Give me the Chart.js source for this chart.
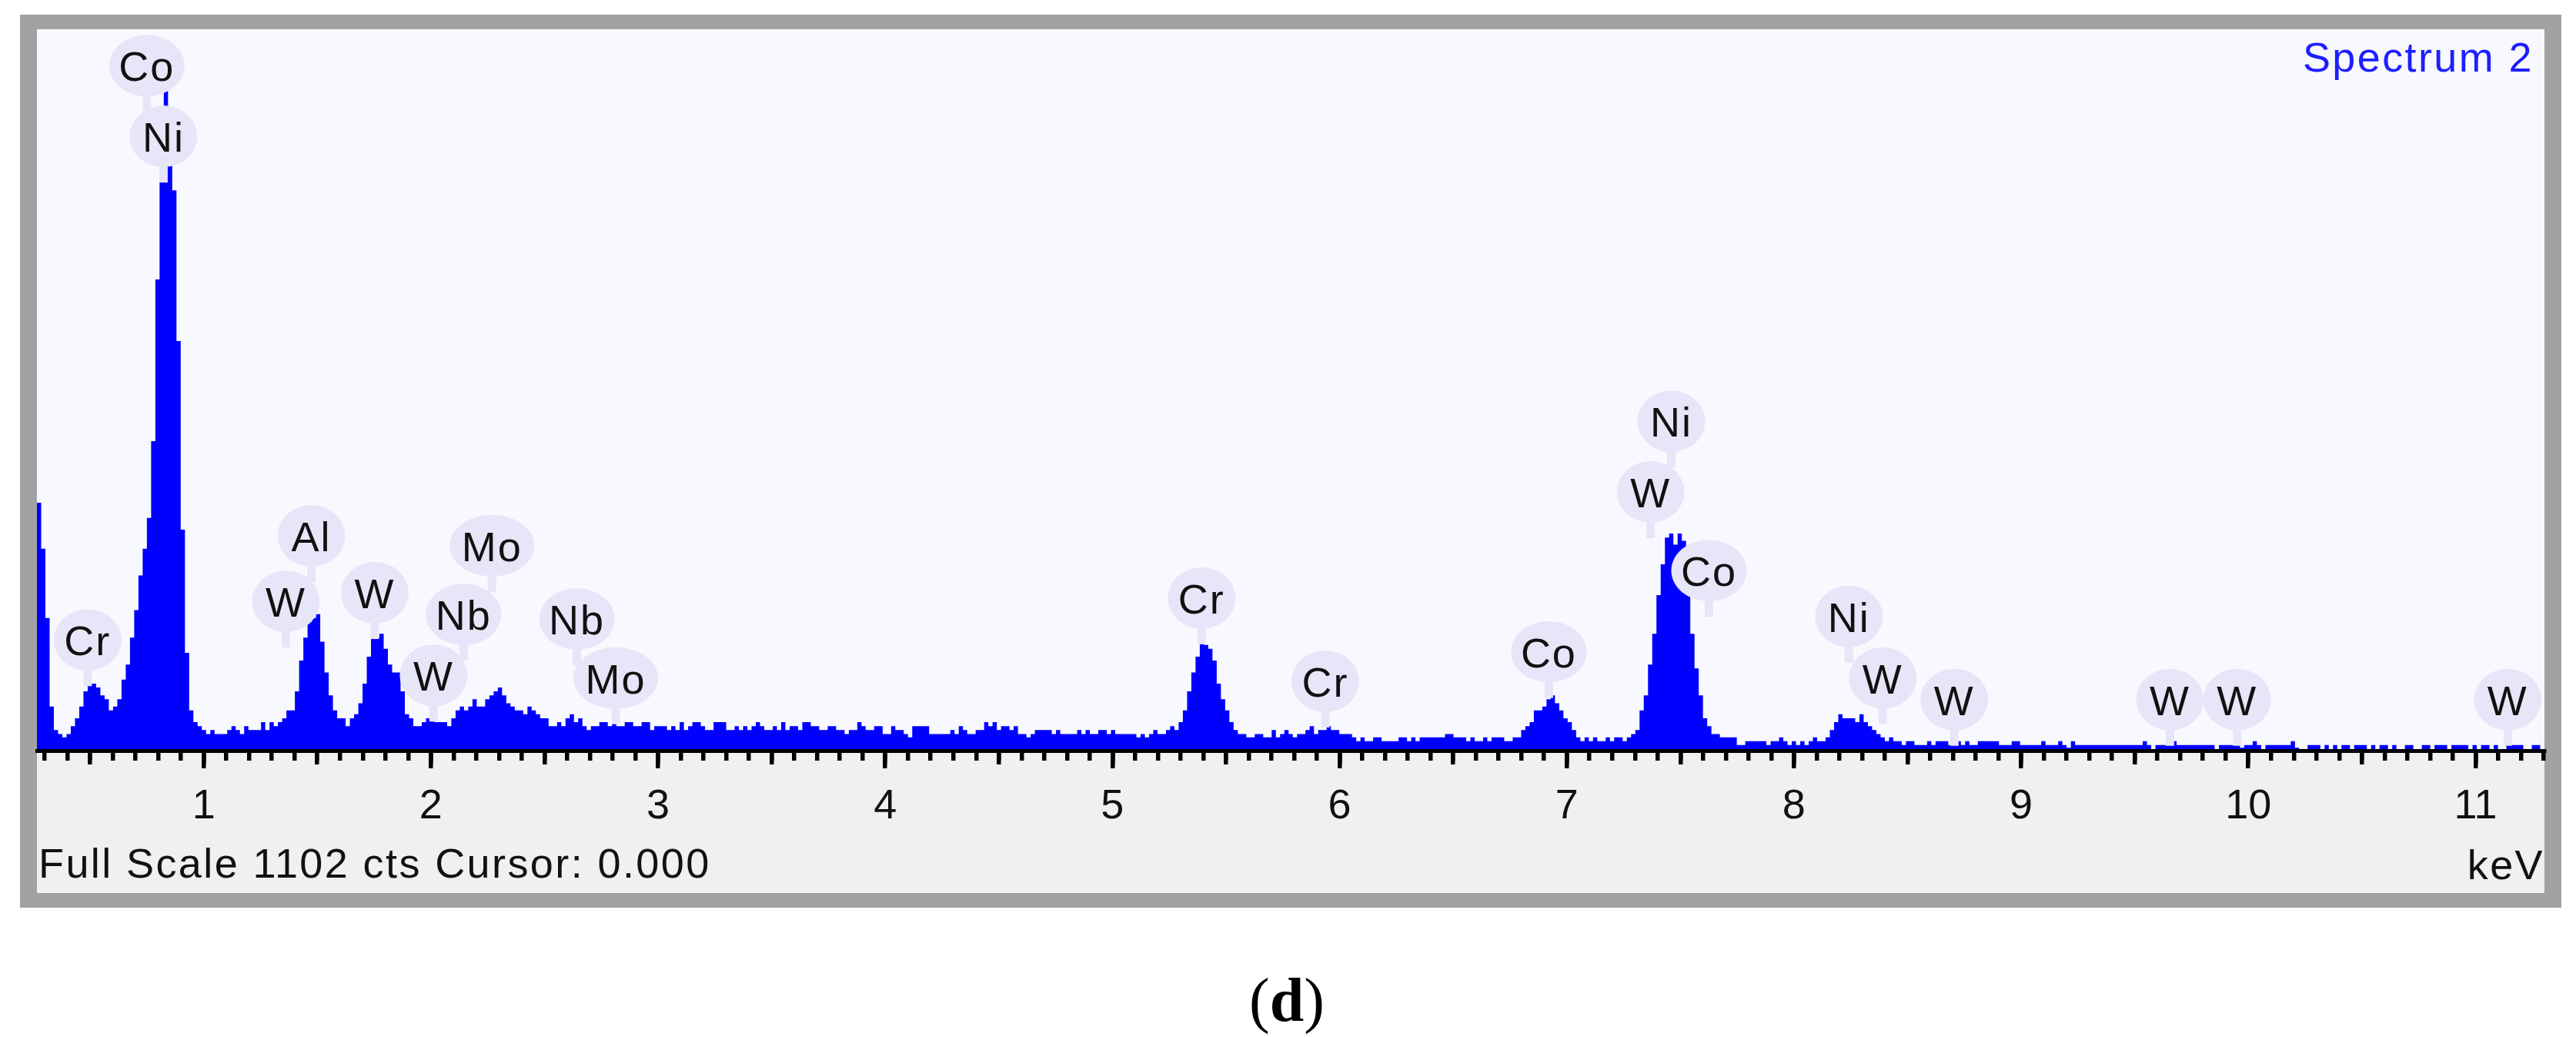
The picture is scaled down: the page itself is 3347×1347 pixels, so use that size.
<!DOCTYPE html>
<html>
<head>
<meta charset="utf-8">
<style>html,body{margin:0;padding:0;background:#fff}canvas{display:block}</style>
<script src="https://cdn.jsdelivr.net/npm/chart.js@4"></script>
</head>
<body>
<canvas id="c" width="3347" height="1347"></canvas>
<script>
const keVStart = 0.266;
const keVPerChannel = 0.018613;
const counts = [
379,309,203,68,32,26,21,26,38,50,
68,91,103,103,97,85,79,62,68,79,
109,132,173,215,268,309,356,473,720,944,
1008,915,856,626,338,150,62,44,38,32,
26,32,26,26,26,32,38,32,26,38,
32,32,32,44,32,44,38,44,50,62,
62,91,138,173,197,203,209,167,120,85,
62,50,50,38,50,56,73,103,144,173,
173,179,156,132,120,120,91,56,50,38,
38,44,50,50,44,44,44,38,50,62,
68,62,68,79,68,68,79,85,91,97,
85,73,68,62,62,56,68,62,56,50,
50,38,38,44,38,50,56,44,50,38,
32,38,38,44,44,38,44,38,38,44,
44,38,38,44,44,32,38,38,38,32,
38,32,44,32,38,44,44,38,32,32,
44,44,44,32,32,38,32,38,32,38,
44,38,32,
32,38,32,44,32,38,38,32,44,44,
38,38,32,32,38,38,32,32,26,32,
32,44,38,32,32,38,38,26,26,38,
32,32,26,21,38,38,38,38,26,26,
26,26,26,32,26,38,32,26,26,32,
32,44,38,44,32,38,38,32,38,26,
26,21,26,32,32,32,32,26,32,26,
26,26,26,32,26,32,26,26,32,32,
26,32,26,26,26,26,26,21,26,21,
26,32,26,26,32,38,32,44,62,91,
120,144,167,162,156,138,103,79,62,44,
32,26,26,21,21,26,26,21,21,32,
21,26,32,26,21,26,26,32,38,26,
32,32,38,32,32,26,26,26,21,15,
21,15,15,21,21,15,15,15,15,21,
21,15,21,15,21,21,21,21,21,21,
26,26,21,21,21,15,21,15,15,21,
15,21,21,21,15,15,21,21,32,38,
44,62,62,68,79,85,73,62,50,44,
32,21,15,21,15,21,15,15,21,15,
21,21,15,21,26,32,62,85,132,179,
238,285,326,332,315,332,321,250,179,126,
85,50,38,26,26,21,21,21,21,9,
9,15,15,15,15,15,9,15,15,21,
15,9,15,9,15,9,15,21,15,15,
21,32,44,56,50,50,50,44,56,44,
38,32,26,21,15,21,15,15,9,15,
15,9,9,9,15,9,15,15,15,9,
9,15,9,15,
9,9,15,15,15,15,15,9,9,9,15,15,9,9,9,9,9,15,9,9,9,15,9,5,15,
9,9,9,9,9,9,9,9,9,9,9,9,9,9,9,9,15,9,2,9,9,9,9,15,
9,9,9,9,9,9,9,9,9,2,9,9,9,9,15,5,9,9,15,9,2,9,9,9,
9,9,9,15,5,2,2,9,9,9,2,9,2,9,2,9,9,2,9,9,9,2,9,2,9,9,2,9,2,2,
9,9,2,2,9,9,2,9,9,9,2,9,9,9,9,2,9,2,9,9,2,9,2,2,9,9,9,9,2,2,9,9,2
];
const fullScaleCounts = 1102;
const tickLabels = ["1","2","3","4","5","6","7","8","9","10","11"];
const peakNames = ["Co","Ni","Cr","Al","W","W","Nb","Mo","W","Nb","Mo","Cr","Cr","Co","W","Ni","Co","Ni","W","W","W","W","W"];
const peakKeV   = [0.750,0.823,0.489,1.474,1.362,1.753,2.144,2.269,2.012,2.643,2.814,5.393,5.937,6.921,7.369,7.460,7.626,8.242,8.391,8.706,9.655,9.951,11.142];
const peakCts   = [1050,942,173,332,232,245,212,317,119,205,115,237,110,155,399,507,279,209,115,82,82,82,82];
const statusText = "Full Scale 1102 cts Cursor: 0.000";
const unitText = "keV";
const spectrumTitle = "Spectrum 2";

const keVEnd = keVStart + counts.length * keVPerChannel;
const points = counts.map((y, i) => ({x: keVStart + i * keVPerChannel, y}));
points.push({x: keVEnd, y: counts[counts.length - 1]});

const SANS = '"Liberation Sans"';
const panel = {
  id: 'panel',
  beforeDraw(chart) {
    const {ctx, chartArea: a} = chart;
    ctx.save();
    ctx.fillStyle = '#fff'; ctx.fillRect(0, 0, 3347, 1347);
    ctx.fillStyle = '#A2A2A2'; ctx.fillRect(26, 19, 3302, 1160);
    ctx.fillStyle = '#F0F0F0'; ctx.fillRect(48, 38, 3258, 1122);
    ctx.fillStyle = '#F8F9FF'; ctx.fillRect(48, 38, 3258, a.bottom - 38);
    ctx.restore();
  },
  afterDraw(chart) {
    const {ctx} = chart;
    ctx.save();
    ctx.letterSpacing = '2.4px';
    ctx.font = '54px ' + SANS;
    ctx.textBaseline = 'middle';
    ctx.fillStyle = '#1E1EFF'; ctx.textAlign = 'right';
    ctx.fillText(spectrumTitle, 3292, 78);
    ctx.fillStyle = '#111'; ctx.textAlign = 'left';
    ctx.fillText(statusText, 50, 1125);
    ctx.textAlign = 'right';
    ctx.fillText(unitText, 3306, 1127);
    ctx.letterSpacing = '0px';
    // caption
    ctx.fillStyle = '#000'; ctx.textBaseline = 'alphabetic'; ctx.textAlign = 'left';
    const r = '80px "Liberation Serif"', b = 'bold 80px "Liberation Serif"';
    ctx.font = r; const w1 = ctx.measureText('(').width;
    ctx.font = b; const w2 = ctx.measureText('d').width;
    let x = 1672 - (2 * w1 + w2) / 2; const y = 1326;
    ctx.font = r; ctx.fillText('(', x, y); x += w1;
    ctx.font = b; ctx.fillText('d', x, y); x += w2;
    ctx.font = r; ctx.fillText(')', x, y);
    ctx.restore();
  }
};
const bubbles = {
  id: 'bubbles',
  afterDatasetsDraw(chart) {
    const {ctx, chartArea: a, scales: {x, y}} = chart;
    ctx.save();
    ctx.beginPath(); ctx.rect(a.left, a.top, a.right - a.left, a.bottom - a.top); ctx.clip();
    peakNames.forEach((name, i) => {
      const px = x.getPixelForValue(peakKeV[i]), py = y.getPixelForValue(peakCts[i]);
      const rx = name === 'Mo' ? 55 : (name === 'Co' || name === 'Nb') ? 49 : 44;
      ctx.fillStyle = '#E6E6F8';
      ctx.beginPath(); ctx.ellipse(px, py + 3, rx, 40, 0, 0, Math.PI * 2); ctx.fill();
      ctx.fillRect(px - 5.5, py + 33, 11, 30);
    });
    ctx.font = '54px ' + SANS;
    ctx.letterSpacing = '2px';
    ctx.fillStyle = '#111'; ctx.textAlign = 'center'; ctx.textBaseline = 'middle';
    peakNames.forEach((name, i) => {
      ctx.fillText(name, x.getPixelForValue(peakKeV[i]), y.getPixelForValue(peakCts[i]) + 8);
    });
    ctx.restore();
  }
};
const tickAxis = (stepSize, tickLength, extra) => Object.assign({
  type: 'linear', axis: 'x', position: 'bottom', min: keVStart, max: keVEnd, weight: 0,
  afterFit(s) { s.height = 0; },
  border: {display: false},
  grid: {display: true, drawOnChartArea: false, drawTicks: true, tickLength, tickWidth: 5.5, tickColor: '#000', color: '#000', lineWidth: 5.5},
  ticks: {display: false, stepSize, includeBounds: false, autoSkip: false}
}, extra || {});

new Chart(document.getElementById('c'), {
  type: 'line',
  data: {datasets: [{
    data: points, stepped: 'before', fill: 'origin', backgroundColor: '#0000FF',
    borderWidth: 0, borderColor: '#0000FF', pointRadius: 0, parsing: false, normalized: true
  }]},
  options: {
    responsive: false, animation: false, devicePixelRatio: 1,
    layout: {padding: {left: 48, right: 41, top: 38, bottom: 251.5}, autoPadding: false},
    plugins: {legend: {display: false}, tooltip: {enabled: false}, title: {display: false}},
    scales: {
      y: {type: 'linear', display: false, min: 0, max: fullScaleCounts},
      x2: tickAxis(0.5, 17.5),
      x3: tickAxis(0.1, 12.5),
      x: tickAxis(1, 22.5, {
        weight: 5,
        afterFit(s) { s.height = 120; },
        border: {display: true, color: '#000', width: 5, z: 1},
        ticks: {display: true, stepSize: 1, includeBounds: false, autoSkip: false, maxRotation: 0, padding: 18, color: '#111',
                font: {family: 'Liberation Sans', size: 54},
                callback: v => tickLabels[Math.round(v) - 1]}
      })
    }
  },
  plugins: [panel, bubbles]
});
</script>
</body>
</html>
